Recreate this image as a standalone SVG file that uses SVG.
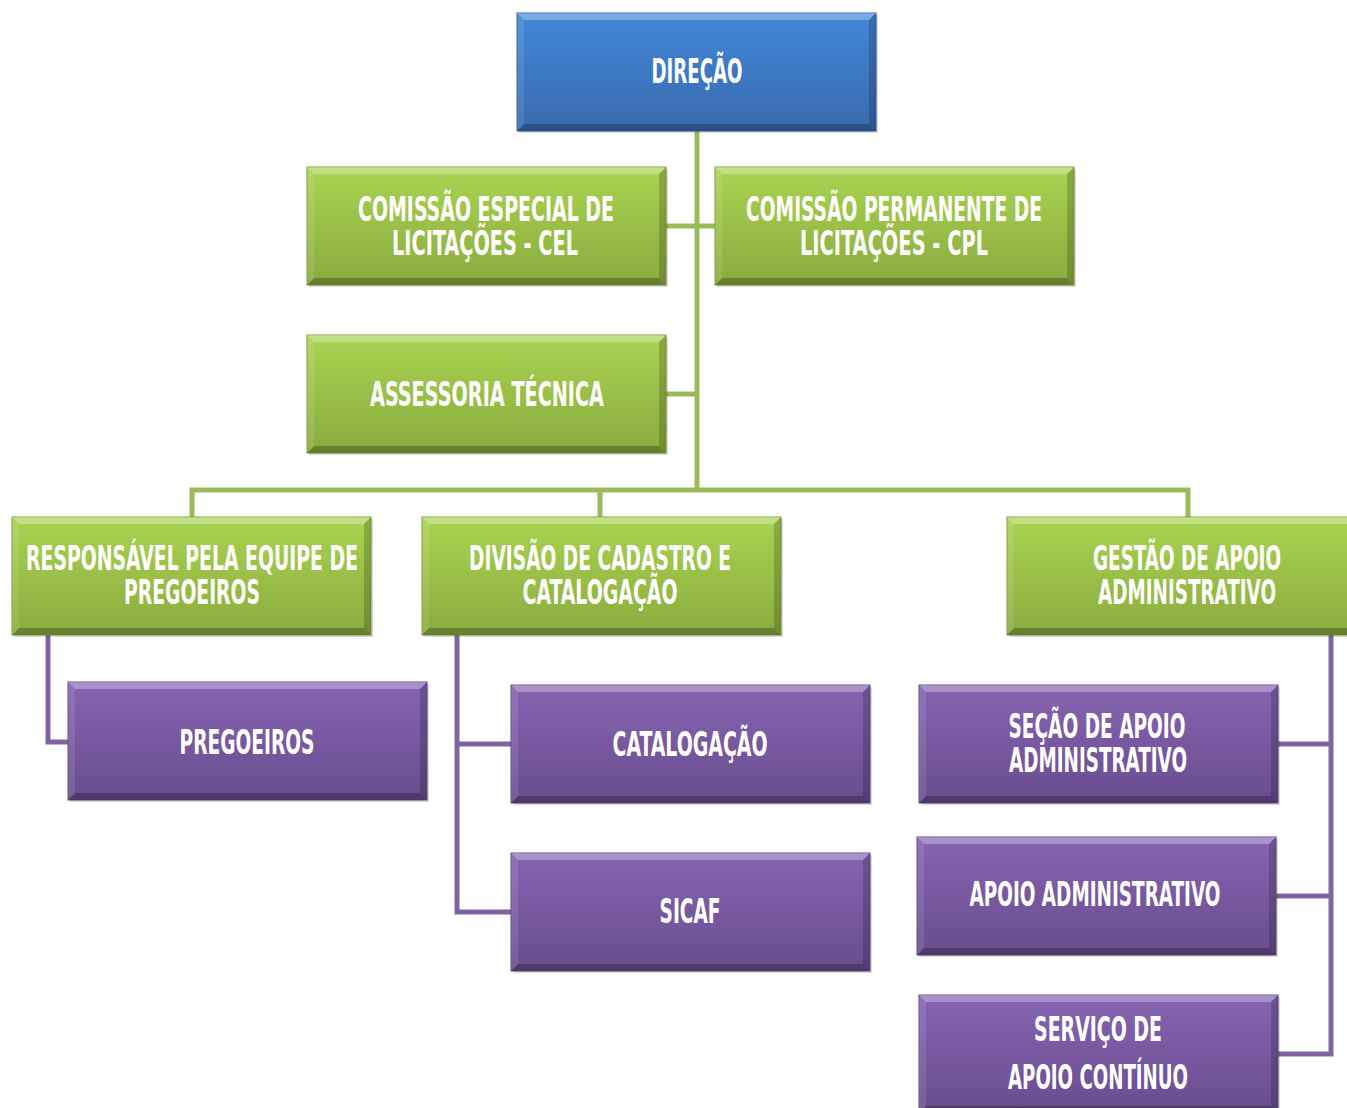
<svg xmlns="http://www.w3.org/2000/svg" xmlns:xlink="http://www.w3.org/1999/xlink" width="1347" height="1108" viewBox="0 0 1347 1108">
<style>
.t{font-family:"DejaVu Sans Condensed","DejaVu Sans","Liberation Sans",sans-serif;font-weight:bold;font-size:33px;fill:#ffffff;text-anchor:middle}
.cg{stroke:#9bbb59;stroke-width:5;fill:none}
.cp{stroke:#8064a2;stroke-width:5;fill:none}
</style>
<defs>
<linearGradient id="gG" x1="0" y1="0" x2="0" y2="1">
<stop offset="0" stop-color="#a9d451"/><stop offset="1" stop-color="#8aab3e"/>
</linearGradient>
<linearGradient id="gP" x1="0" y1="0" x2="0" y2="1">
<stop offset="0" stop-color="#8664b2"/><stop offset="1" stop-color="#694d8e"/>
</linearGradient>
<linearGradient id="gB" x1="0" y1="0" x2="0" y2="1">
<stop offset="0" stop-color="#4387d9"/><stop offset="1" stop-color="#386aae"/>
</linearGradient>
<g id="bev">
<polygon points="0,0 359,0 352,7 7,7" fill="#ffffff" fill-opacity="0.3"/>
<polygon points="0,0 7,7 7,111 0,118" fill="#ffffff" fill-opacity="0.1"/>
<polygon points="359,0 359,118 352,111 352,7" fill="#000000" fill-opacity="0.18"/>
<polygon points="0,118 7,111 352,111 359,118" fill="#000000" fill-opacity="0.25"/>
</g>
<g id="green">
<rect x="2" y="2" width="359" height="118" fill="#000" fill-opacity="0.15"/>
<rect width="359" height="118" fill="url(#gG)" stroke="#7a9a3c" stroke-width="1"/>
<use xlink:href="#bev"/>
</g>
<g id="purple">
<rect x="2" y="2" width="359" height="118" fill="#000" fill-opacity="0.15"/>
<rect width="359" height="118" fill="url(#gP)" stroke="#5e4682" stroke-width="1"/>
<use xlink:href="#bev"/>
</g>
<g id="blue">
<rect x="2" y="2" width="359" height="118" fill="#000" fill-opacity="0.15"/>
<rect width="359" height="118" fill="url(#gB)" stroke="#335f9c" stroke-width="1"/>
<use xlink:href="#bev"/>
</g>
</defs>
<rect width="1347" height="1108" fill="#ffffff"/>

<g id="connectors">
<path class="cg" d="M697,130 V490"/>
<path class="cg" d="M666,226 H715"/>
<path class="cg" d="M666,394 H697"/>
<path class="cg" d="M192,517 V490 H1188 V517"/>
<path class="cg" d="M600,490 V517"/>
<path class="cp" d="M48,635 V742 H68"/>
<path class="cp" d="M457,635 V912 H511"/>
<path class="cp" d="M457,744 H511"/>
<path class="cp" d="M1331,635 V1054 H1278"/>
<path class="cp" d="M1331,744 H1278"/>
<path class="cp" d="M1331,896 H1275"/>
</g>

<g id="direcao"><use xlink:href="#blue" x="517" y="13"/>
<text class="t" x="697" y="83" textLength="91" lengthAdjust="spacingAndGlyphs">DIREÇÃO</text></g>

<g id="cel"><use xlink:href="#green" x="307" y="167"/>
<text class="t" x="486" y="221" textLength="256" lengthAdjust="spacingAndGlyphs">COMISSÃO ESPECIAL DE</text>
<text class="t" x="485" y="255" textLength="186" lengthAdjust="spacingAndGlyphs">LICITAÇÕES - CEL</text></g>

<g id="cpl"><use xlink:href="#green" x="715" y="167"/>
<text class="t" x="894" y="221" textLength="296" lengthAdjust="spacingAndGlyphs">COMISSÃO PERMANENTE DE</text>
<text class="t" x="894" y="255" textLength="188" lengthAdjust="spacingAndGlyphs">LICITAÇÕES - CPL</text></g>

<g id="assessoria"><use xlink:href="#green" x="307" y="335"/>
<text class="t" x="487" y="406" textLength="234" lengthAdjust="spacingAndGlyphs">ASSESSORIA TÉCNICA</text></g>

<g id="responsavel"><use xlink:href="#green" x="12" y="517"/>
<text class="t" x="192" y="570" textLength="332" lengthAdjust="spacingAndGlyphs">RESPONSÁVEL PELA EQUIPE DE</text>
<text class="t" x="192" y="604" textLength="136" lengthAdjust="spacingAndGlyphs">PREGOEIROS</text></g>

<g id="divisao"><use xlink:href="#green" x="422" y="517"/>
<text class="t" x="600" y="570" textLength="262" lengthAdjust="spacingAndGlyphs">DIVISÃO DE CADASTRO E</text>
<text class="t" x="600" y="604" textLength="155" lengthAdjust="spacingAndGlyphs">CATALOGAÇÃO</text></g>

<g id="gestao"><use xlink:href="#green" x="1007" y="517"/>
<text class="t" x="1187" y="570" textLength="188" lengthAdjust="spacingAndGlyphs">GESTÃO DE APOIO</text>
<text class="t" x="1187" y="604" textLength="178" lengthAdjust="spacingAndGlyphs">ADMINISTRATIVO</text></g>

<g id="pregoeiros"><use xlink:href="#purple" x="68" y="682"/>
<text class="t" x="247" y="754" textLength="135" lengthAdjust="spacingAndGlyphs">PREGOEIROS</text></g>

<g id="catalogacao"><use xlink:href="#purple" x="511" y="685"/>
<text class="t" x="690" y="756" textLength="155" lengthAdjust="spacingAndGlyphs">CATALOGAÇÃO</text></g>

<g id="sicaf"><use xlink:href="#purple" x="511" y="853"/>
<text class="t" x="690" y="923" textLength="61" lengthAdjust="spacingAndGlyphs">SICAF</text></g>

<g id="secao"><use xlink:href="#purple" x="919" y="685"/>
<text class="t" x="1097" y="738" textLength="177" lengthAdjust="spacingAndGlyphs">SEÇÃO DE APOIO</text>
<text class="t" x="1098" y="772" textLength="178" lengthAdjust="spacingAndGlyphs">ADMINISTRATIVO</text></g>

<g id="apoio"><use xlink:href="#purple" x="917" y="837"/>
<text class="t" x="1095" y="906" textLength="251" lengthAdjust="spacingAndGlyphs">APOIO ADMINISTRATIVO</text></g>

<g id="servico"><use xlink:href="#purple" x="919" y="995"/>
<text class="t" x="1098" y="1041" textLength="128" lengthAdjust="spacingAndGlyphs">SERVIÇO DE</text>
<text class="t" x="1098" y="1089" textLength="180" lengthAdjust="spacingAndGlyphs">APOIO CONTÍNUO</text></g>
</svg>
